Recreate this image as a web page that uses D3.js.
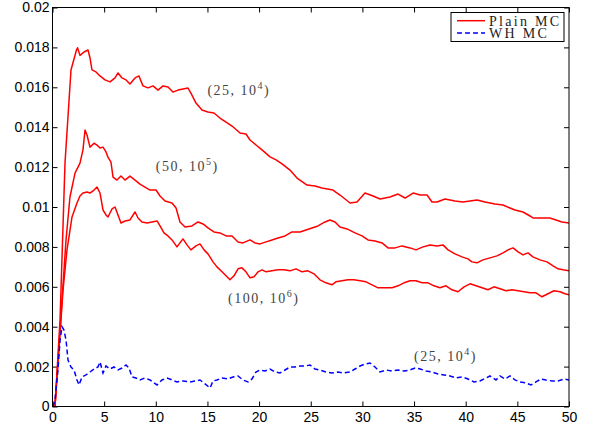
<!DOCTYPE html>
<html>
<head>
<meta charset="utf-8">
<script src="https://cdn.jsdelivr.net/npm/d3@7"></script>
<style>
  body { margin: 0; background: #fff; }
  .tick text { font-family: "Liberation Sans", Arial, sans-serif; font-size: 14px; fill: #000; }
  .lbl { font-family: "Liberation Serif", "Times New Roman", serif; font-size: 14px; fill: #444; letter-spacing: 1.5px; }
  .leg { font-family: "Liberation Serif", "Times New Roman", serif; font-size: 14px; fill: #222; letter-spacing: 2.3px; }
</style>
</head>
<body>
<div id="chart"></div>
<script>
// values: [time, error]
const plain25 = [[0.24,0],[0.73,0.00434],[1.21,0.0122],[1.79,0.01687],[2.32,0.01787],[2.42,0.01798],[2.66,0.0176],[3.05,0.01777],[3.44,0.01787],[3.63,0.01747],[3.82,0.01687],[4.21,0.01677],[4.6,0.01657],[5.08,0.01637],[5.57,0.01627],[6.05,0.01647],[6.34,0.01672],[6.73,0.01647],[7.12,0.01637],[7.5,0.01617],[7.99,0.01647],[8.37,0.01657],[8.76,0.01607],[9.24,0.01597],[9.73,0.01607],[10.21,0.01586],[10.7,0.01607],[11.18,0.01602],[11.66,0.01576],[12.15,0.01586],[12.63,0.01591],[13.12,0.01596],[13.4,0.01571],[13.89,0.01521],[14.47,0.01486],[15.05,0.01476],[15.63,0.01471],[16.21,0.01446],[16.8,0.01426],[17.38,0.01406],[18.15,0.01371],[18.73,0.01366],[19.12,0.01336],[19.7,0.01311],[20.28,0.01286],[21.06,0.01251],[21.64,0.01236],[22.22,0.01216],[22.99,0.01185],[23.67,0.01145],[24.64,0.0111],[25.41,0.01105],[26.09,0.01095],[27.15,0.01085],[27.83,0.0106],[28.32,0.0104],[28.8,0.0102],[29.48,0.01025],[30.25,0.0107],[31.03,0.01055],[31.71,0.0104],[32.68,0.0105],[33.45,0.01065],[34.13,0.01045],[34.91,0.0107],[35.59,0.0106],[36.26,0.0106],[36.74,0.01025],[37.22,0.01025],[38.0,0.0104],[38.96,0.0103],[39.74,0.01025],[40.42,0.0103],[41.09,0.01035],[41.87,0.01025],[42.84,0.01015],[43.61,0.0101],[44.29,0.00995],[44.77,0.00985],[45.55,0.00975],[46.22,0.00955],[46.51,0.00945],[47.19,0.00945],[48.16,0.00945],[48.74,0.00935],[49.32,0.00925],[50,0.0092]];

const plain50 = [[0.24,0],[0.92,0.00534],[1.31,0.00835],[1.69,0.0105],[2.18,0.0117],[2.66,0.0122],[2.95,0.01286],[3.15,0.01386],[3.34,0.01361],[3.63,0.013],[4.02,0.0132],[4.31,0.0131],[4.6,0.01296],[4.89,0.013],[5.18,0.01276],[5.37,0.0125],[5.66,0.01225],[5.86,0.0115],[6.24,0.01135],[6.63,0.01155],[7.02,0.01135],[7.5,0.01155],[7.99,0.01135],[8.47,0.01115],[8.95,0.011],[9.44,0.01085],[10.02,0.01085],[10.41,0.01055],[10.89,0.0103],[11.57,0.0102],[11.96,0.00995],[12.34,0.00925],[12.83,0.009],[13.5,0.00905],[14.09,0.00925],[14.57,0.00915],[15.05,0.00895],[15.63,0.00875],[16.21,0.0087],[16.8,0.00855],[17.38,0.00855],[17.96,0.00825],[18.44,0.0082],[19.12,0.00835],[19.6,0.0082],[20.09,0.00815],[20.67,0.00825],[21.25,0.00835],[21.83,0.00845],[22.51,0.00855],[23.18,0.00875],[23.96,0.00875],[24.54,0.00885],[25.12,0.00895],[25.7,0.00905],[26.38,0.00925],[26.86,0.00935],[27.35,0.00925],[27.83,0.009],[28.51,0.0089],[29.28,0.0087],[29.96,0.00855],[30.54,0.00835],[31.22,0.0083],[31.9,0.0082],[32.48,0.00795],[33.16,0.00795],[33.83,0.00805],[34.61,0.00795],[35.19,0.00785],[35.87,0.008],[36.55,0.0081],[37.22,0.00805],[37.8,0.0081],[38.29,0.00785],[38.96,0.00765],[39.64,0.0075],[40.22,0.0074],[40.61,0.00725],[41.09,0.0072],[41.67,0.00735],[42.35,0.00745],[43.03,0.00755],[43.61,0.0077],[44.1,0.00785],[44.58,0.00795],[45.07,0.00775],[45.55,0.0076],[46.03,0.0077],[46.51,0.0075],[47.19,0.00735],[47.87,0.00725],[48.45,0.00705],[48.94,0.0069],[49.42,0.00685],[50,0.0068]];

const plain100 = [[0.24,0],[1.02,0.00584],[1.4,0.00784],[1.89,0.0095],[2.37,0.0102],[2.66,0.01055],[2.95,0.0107],[3.34,0.01075],[3.63,0.0107],[4.02,0.01085],[4.31,0.011],[4.6,0.0107],[4.89,0.00985],[5.18,0.0096],[5.37,0.0095],[5.76,0.0099],[6.05,0.01],[6.34,0.0096],[6.63,0.0092],[7.02,0.0093],[7.5,0.00935],[7.99,0.00975],[8.28,0.00945],[8.66,0.00925],[9.15,0.0092],[9.63,0.00925],[10.12,0.0093],[10.41,0.00905],[10.79,0.0087],[11.18,0.00855],[11.57,0.00835],[12.05,0.008],[12.34,0.0082],[12.63,0.0084],[13.02,0.0081],[13.4,0.00785],[13.89,0.00805],[14.28,0.00815],[14.67,0.00785],[15.05,0.00765],[15.54,0.00725],[15.92,0.007],[16.41,0.00675],[16.8,0.00655],[17.18,0.00635],[17.57,0.00655],[17.96,0.0069],[18.34,0.00695],[18.73,0.00675],[19.12,0.00645],[19.51,0.0065],[19.9,0.00675],[20.28,0.00685],[20.67,0.00675],[21.25,0.0068],[21.83,0.00685],[22.41,0.00685],[22.99,0.0068],[23.57,0.0069],[24.15,0.00675],[24.73,0.0068],[25.31,0.00665],[25.89,0.00635],[26.47,0.0062],[27.05,0.0061],[27.44,0.00625],[28.02,0.0063],[28.6,0.00635],[29.18,0.00635],[29.77,0.0063],[30.35,0.00625],[30.93,0.0061],[31.51,0.00595],[32.19,0.00595],[32.87,0.00595],[33.45,0.00605],[34.03,0.0062],[34.61,0.0063],[35.19,0.0063],[35.77,0.0062],[36.35,0.0062],[36.93,0.00605],[37.51,0.00595],[38.09,0.00605],[38.67,0.00585],[39.25,0.00575],[39.84,0.006],[40.42,0.00615],[41.0,0.00605],[41.58,0.00595],[42.16,0.00585],[42.74,0.006],[43.32,0.0059],[43.9,0.0058],[44.48,0.00585],[45.07,0.0058],[45.65,0.00575],[46.22,0.0057],[46.8,0.0057],[47.39,0.0055],[47.97,0.00565],[48.55,0.0058],[49.13,0.00575],[49.61,0.00565],[50,0.0056]];

const wh25 = [[0.05,0],[0.24,0.00033],[0.53,0.00183],[0.73,0.00333],[0.92,0.004],[1.11,0.00383],[1.31,0.00333],[1.5,0.00233],[1.79,0.00198],[2.08,0.00183],[2.37,0.00133],[2.57,0.00108],[2.86,0.00148],[3.24,0.00158],[3.63,0.00173],[4.02,0.00188],[4.4,0.00198],[4.6,0.00223],[4.89,0.00168],[5.18,0.00203],[5.57,0.00188],[5.95,0.00198],[6.34,0.00183],[6.73,0.00193],[7.12,0.00208],[7.41,0.00193],[7.7,0.00148],[8.08,0.00143],[8.47,0.00133],[8.95,0.00143],[9.44,0.00133],[9.83,0.00118],[10.12,0.00108],[10.6,0.00133],[11.09,0.00143],[11.57,0.00133],[12.05,0.00123],[12.63,0.00128],[13.31,0.00123],[13.79,0.00128],[14.28,0.00133],[14.77,0.00113],[15.25,0.00093],[15.54,0.00128],[15.92,0.00133],[16.41,0.00143],[16.99,0.00138],[17.47,0.00148],[17.96,0.00153],[18.44,0.00133],[18.93,0.00123],[19.31,0.00138],[19.7,0.00173],[20.09,0.00183],[20.57,0.00178],[21.06,0.00188],[21.54,0.00173],[22.02,0.00168],[22.51,0.00183],[22.99,0.00198],[23.47,0.00198],[23.96,0.00203],[24.44,0.00203],[24.93,0.00208],[25.41,0.00188],[25.89,0.00183],[26.47,0.00173],[27.05,0.00168],[27.63,0.00173],[28.21,0.00168],[28.8,0.00173],[29.28,0.00188],[29.77,0.00203],[30.25,0.00213],[30.73,0.00218],[31.22,0.00198],[31.71,0.00173],[32.29,0.00183],[32.87,0.00178],[33.45,0.00183],[34.03,0.00178],[34.61,0.00183],[35.1,0.00193],[35.59,0.00188],[36.16,0.00178],[36.74,0.00173],[37.32,0.00163],[37.9,0.00158],[38.48,0.00153],[39.06,0.00143],[39.64,0.00148],[40.22,0.00138],[40.8,0.00123],[41.38,0.00128],[41.96,0.00143],[42.35,0.00153],[42.93,0.00133],[43.32,0.00153],[43.81,0.00138],[44.29,0.00153],[44.77,0.00133],[45.26,0.00123],[45.84,0.00118],[46.32,0.00108],[46.8,0.00123],[47.29,0.00138],[47.77,0.00133],[48.35,0.00128],[48.93,0.00128],[49.52,0.00138],[50,0.00133]];

const xTicks = [0, 5, 10, 15, 20, 25, 30, 35, 40, 45, 50];
const yTicks = [0, 0.002, 0.004, 0.006, 0.008, 0.01, 0.012, 0.014, 0.016, 0.018, 0.02];

// curve annotations: [label base, exponent, t, v] (anchor = start of text baseline)
const curveLabels = [
    ["(25, 10", "4", 15, 0.0156],
    ["(50, 10", "5", 10.0, 0.0118],
    ["(100, 10", "6", 17, 0.0052],
    ["(25, 10", "4", 35, 0.00227]
];
const legendNames = ["Plain MC", "WH MC"];

const width = 596, height = 430;
const margin = { left: 52.5, right: 27, top: 7.5, bottom: 23.5 };
const innerW = width - margin.left - margin.right;
const innerH = height - margin.top - margin.bottom;

const svg = d3.select("#chart").append("svg")
    .attr("width", width)
    .attr("height", height);

const g = svg.append("g").attr("transform", `translate(${margin.left},${margin.top})`);

const x = d3.scaleLinear().domain([0, 50]).range([0, innerW]);
const y = d3.scaleLinear().domain([0, 0.02]).range([innerH, 0]);

// axes with inward ticks (MATLAB style box)
const fmt = d3.format("~g");
g.append("g").attr("transform", `translate(0,${innerH})`)
    .call(d3.axisBottom(x).tickValues(xTicks).tickSizeInner(-5).tickSizeOuter(0).tickPadding(6).tickFormat(fmt));
g.append("g")
    .call(d3.axisLeft(y).tickValues(yTicks).tickSizeInner(-5).tickSizeOuter(0).tickPadding(3).tickFormat(fmt));
g.append("g")
    .call(d3.axisTop(x).tickValues(xTicks).tickSizeInner(-5).tickSizeOuter(0).tickFormat(""));
g.append("g").attr("transform", `translate(${innerW},0)`)
    .call(d3.axisRight(y).tickValues(yTicks).tickSizeInner(-5).tickSizeOuter(0).tickFormat(""));
g.selectAll(".domain").remove();
g.selectAll(".tick line").attr("stroke", "#000");

const line = d3.line().x(d => x(d[0])).y(d => y(d[1]));

svg.append("defs").append("clipPath").attr("id", "plotclip")
    .append("rect").attr("width", innerW).attr("height", innerH);

const plot = g.append("g").attr("clip-path", "url(#plotclip)");

[plain25, plain50, plain100].forEach(s => {
    plot.append("path").datum(s)
        .attr("d", line)
        .attr("fill", "none")
        .attr("stroke", "#ff0000")
        .attr("stroke-width", 1.5)
        .attr("stroke-linejoin", "round");
});

plot.append("path").datum(wh25)
    .attr("d", line)
    .attr("fill", "none")
    .attr("stroke", "#0000ff")
    .attr("stroke-width", 1.5)
    .attr("stroke-dasharray", "5,3");

// frame
g.append("rect")
    .attr("width", innerW).attr("height", innerH)
    .attr("fill", "none").attr("stroke", "#000").attr("stroke-width", 1);

// annotations
curveLabels.forEach(([base, sup, t, v]) => {
    const txt = g.append("text").attr("class", "lbl")
        .attr("x", x(t)).attr("y", y(v));
    txt.append("tspan").text(base);
    txt.append("tspan").attr("dy", -6).attr("font-size", "10px").text(sup);
    txt.append("tspan").attr("dy", 6).text(")");
});

// legend
const leg = svg.append("g").attr("transform", "translate(451,12.5)");
leg.append("rect").attr("width", 113).attr("height", 29)
    .attr("fill", "#fff").attr("stroke", "#000").attr("stroke-width", 1);
const legStyles = [{ c: "#ff0000", dash: null }, { c: "#0000ff", dash: "5,3" }];
legendNames.forEach((name, i) => {
    const yy = 8.2 + i * 12.4;
    leg.append("line").attr("x1", 6).attr("x2", 34).attr("y1", yy).attr("y2", yy)
        .attr("stroke", legStyles[i].c).attr("stroke-width", 1.5)
        .attr("stroke-dasharray", legStyles[i].dash);
    leg.append("text").attr("class", "leg")
        .attr("x", 38).attr("y", yy + 4.8).text(name);
});
</script>
</body>
</html>
